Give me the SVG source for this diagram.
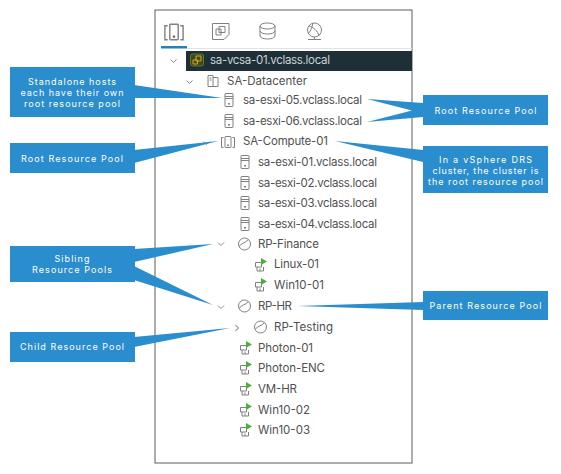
<svg xmlns="http://www.w3.org/2000/svg" width="561" height="474" viewBox="0 0 561 474">
<style>
text{font-family:"Inter","Open Sans","Liberation Sans",sans-serif}
.t{font-size:11.5px;fill:#505050;dominant-baseline:central}
.c{font-size:9px;fill:#fff;text-anchor:middle;dominant-baseline:central}
.box,.ptr{fill:#2a8dcd}
.i{fill:none;stroke:#808080;stroke-width:1}
.ch{fill:none;stroke:#8a8a8a;stroke-width:1}
</style>
<defs>
<g id="host"><rect class="i" x="-4" y="-6.500" width="8" height="13" rx=".5"/><path class="i" d="M-4-3.500H4M-4-1.500H4"/><rect x="-.8" y="3" width="1.6" height="1.6" fill="#666"/></g>
<g id="cluster"><rect class="i" x="-3" y="-5.500" width="6" height="11" rx=".5"/><path class="i" d="M-4.500-4.500H-6.500V5.500H-4.500M4.500-4.500H6.500V5.500H4.500"/><rect x="-.8" y="2.500" width="1.6" height="1.6" fill="#666"/></g>
<g id="dc"><path class="i" d="M-5-5.500H0V5.500H-5ZM0-3.500H5V5.500H0M-3.500-3H-1.500M-3.500-1H-1.500"/></g>
<g id="rp"><circle class="i" cx="0" cy="0" r="6"/><path class="i" d="M-5.500 2.500C-3-1 1-1 4-4.500"/></g>
<g id="vm"><path class="i" d="M-4.500-2.500H1.500V2H-4.500ZM-3 2V6H3.500V2M0 6V3.500"/><path d="M1-7L7-3.500L1 0Z" fill="#4fae3a"/></g>
</defs>
<rect width="561" height="474" fill="#fff"/>
<g id="frame">
<rect x="155" y="10" width="257" height="453" fill="#fff" stroke="#5c5c5c" stroke-width="1"/>
<path d="M187 48.500H412" stroke="#e2e2e2"/>
<rect x="161" y="46" width="26" height="2.500" fill="#2a7fb5"/>
<g transform="translate(174 32) scale(1.4)"><use href="#cluster"/></g>
<g id="tab-vms"><path class="i" d="M212.500 23.500H229V34.500L224 39.500H212.500Z" stroke-width="1.200"/><path class="i" d="M216 29H221V35H216ZM219 26.500H225V32.500H219Z"/></g>
<g id="tab-storage"><ellipse class="i" cx="267.500" cy="26" rx="7.500" ry="3"/><path class="i" d="M260 26V36C260.500 40 274.500 40 275 36V26M260 31C260.500 35 274.500 35 275 31"/></g>
<g id="tab-network"><circle class="i" cx="314.500" cy="30" r="7"/><path class="i" d="M309 26C313 27 318 31 319 36M313 23C312 27 311 31 308.500 33M314.500 37V39.500M308 39.500H321"/></g>
</g>
<g id="vcenter">
<rect x="186" y="51" width="226" height="20" fill="#1e2f38"/>
<path class="ch" d="M170.500 59.500L173.500 62.500L176.500 59.500"/>
<rect x="190.500" y="54" width="13" height="12" rx="2" fill="#3d4a20" stroke="#5f7a20"/>
<path d="M193 60H197.500V64H193ZM196 56H201V61H196Z" fill="none" stroke="#d9a520"/>
<text class="t" x="210" y="60" textLength="120" style="fill:#c9d2d6">sa-vcsa-01.vclass.local</text>
</g>
<g id="datacenter"><path class="ch" d="M186.500 80.500L189.500 83.500L192.500 80.500"/><use href="#dc" x="213" y="81"/><text class="t" x="227" y="81" textLength="80">SA-Datacenter</text></g>
<g id="esxi05"><use href="#host" x="229" y="100"/><text class="t" x="243" y="100" textLength="119">sa-esxi-05.vclass.local</text></g>
<g id="esxi06"><use href="#host" x="229" y="121"/><text class="t" x="243" y="121" textLength="119">sa-esxi-06.vclass.local</text></g>
<g id="compute"><path class="ch" d="M203.500 141.500L206.500 144.500L209.500 141.500"/><use href="#cluster" x="228" y="142"/><text class="t" x="243" y="141" textLength="85">SA-Compute-01</text></g>
<g id="esxi01"><use href="#host" x="245" y="162"/><text class="t" x="258" y="162" textLength="119">sa-esxi-01.vclass.local</text></g>
<g id="esxi02"><use href="#host" x="245" y="183"/><text class="t" x="258" y="183" textLength="119">sa-esxi-02.vclass.local</text></g>
<g id="esxi03"><use href="#host" x="245" y="203"/><text class="t" x="258" y="203" textLength="119">sa-esxi-03.vclass.local</text></g>
<g id="esxi04"><use href="#host" x="245" y="224"/><text class="t" x="258" y="224" textLength="119">sa-esxi-04.vclass.local</text></g>
<g id="rp-finance"><path class="ch" d="M218 242.500L221 245.500L224 242.500"/><use href="#rp" x="244.500" y="244"/><text class="t" x="258" y="244" textLength="61">RP-Finance</text></g>
<g id="linux01"><use href="#vm" x="260" y="265"/><text class="t" x="274" y="264" textLength="45">Linux-01</text></g>
<g id="win1001"><use href="#vm" x="260" y="285"/><text class="t" x="274" y="285" textLength="50">Win10-01</text></g>
<g id="rp-hr"><path class="ch" d="M218 305.500L221 308.500L224 305.500"/><use href="#rp" x="244.500" y="306"/><text class="t" x="258" y="305.500" textLength="34">RP-HR</text></g>
<g id="rp-testing"><path class="ch" d="M235.500 325L238.500 328L235.500 331" style="stroke:#666"/><use href="#rp" x="260.500" y="327"/><text class="t" x="274" y="327" textLength="59">RP-Testing</text></g>
<g id="photon01"><use href="#vm" x="245" y="348"/><text class="t" x="258" y="348" textLength="55">Photon-01</text></g>
<g id="photon-enc"><use href="#vm" x="245" y="368"/><text class="t" x="258" y="368" textLength="67">Photon-ENC</text></g>
<g id="vm-hr"><use href="#vm" x="245" y="389"/><text class="t" x="258" y="389" textLength="39">VM-HR</text></g>
<g id="win1002"><use href="#vm" x="245" y="410"/><text class="t" x="258" y="410" textLength="52">Win10-02</text></g>
<g id="win1003"><use href="#vm" x="245" y="430"/><text class="t" x="258" y="430" textLength="52">Win10-03</text></g>
<g id="connectors">
<polygon class="ptr" points="134,85 222,98 134,98"/>
<polygon class="ptr" points="134,150 218,141 134,163"/>
<polygon class="ptr" points="423,103 367,99 412,110.500 367,122 423,117"/>
<polygon class="ptr" points="423,150 335,141 423,162"/>
<polygon class="ptr" points="134,249 213,244 134,262"/>
<polygon class="ptr" points="134,266 213,305 134,280"/>
<polygon class="ptr" points="423,302 297,306 423,310"/>
<polygon class="ptr" points="134,337 230,328 134,347"/>
</g>
<g id="callout-standalone"><rect class="box" x="10" y="67" width="125" height="50"/><text class="c" x="72" y="81" textLength="88">Standalone hosts</text><text class="c" x="72" y="92" textLength="103">each have their own</text><text class="c" x="72" y="103" textLength="96">root resource pool</text></g>
<g id="callout-root-left"><rect class="box" x="10" y="143" width="125" height="30"/><text class="c" x="72" y="158" textLength="102">Root Resource Pool</text></g>
<g id="callout-root-right"><rect class="box" x="423" y="95" width="125" height="30"/><text class="c" x="485.500" y="110" textLength="102">Root Resource Pool</text></g>
<g id="callout-drs"><rect class="box" x="423" y="146" width="125" height="47"/><text class="c" x="485.500" y="159" textLength="93">In a vSphere DRS</text><text class="c" x="485.500" y="170" textLength="106">cluster, the cluster is</text><text class="c" x="485.500" y="181" textLength="115">the root resource pool</text></g>
<g id="callout-sibling"><rect class="box" x="10" y="246" width="125" height="36"/><text class="c" x="72" y="258" textLength="35">Sibling</text><text class="c" x="72" y="269" textLength="80">Resource Pools</text></g>
<g id="callout-parent"><rect class="box" x="423" y="291" width="125" height="29"/><text class="c" x="485.500" y="305" textLength="112">Parent Resource Pool</text></g>
<g id="callout-child"><rect class="box" x="10" y="332" width="125" height="30"/><text class="c" x="72" y="346" textLength="104">Child Resource Pool</text></g>
</svg>
